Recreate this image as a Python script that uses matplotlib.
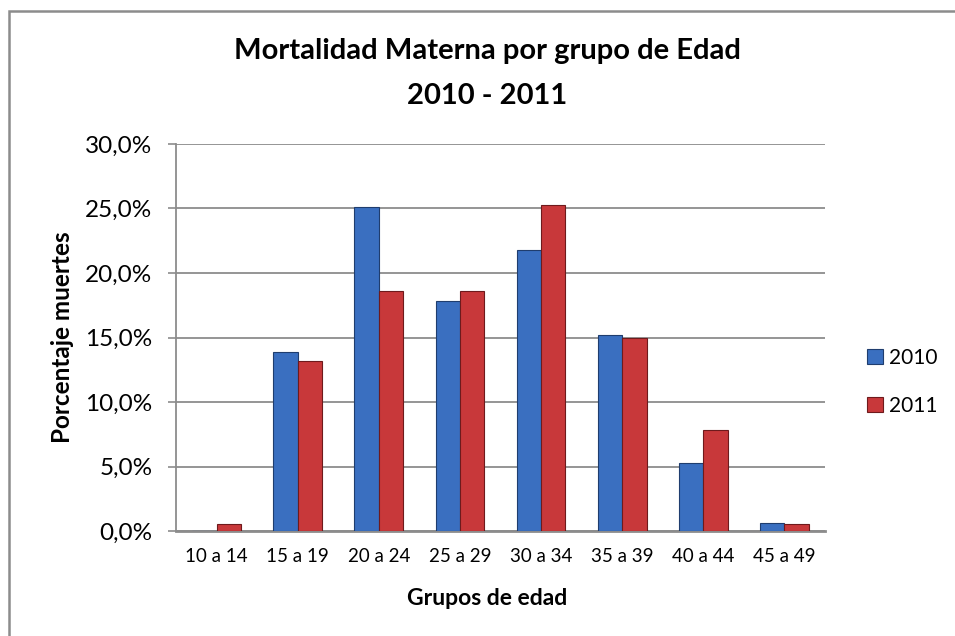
import numpy as np
import matplotlib
matplotlib.use("Agg")
import matplotlib.pyplot as plt
from matplotlib.patches import Rectangle
from matplotlib.ticker import FuncFormatter

# ── Data ──────────────────────────────────────────────────────────────────
grupos = ["10 a 14", "15 a 19", "20 a 24", "25 a 29",
          "30 a 34", "35 a 39", "40 a 44", "45 a 49"]
pct_2010 = [0.0, 13.9, 25.1, 17.8, 21.8, 15.2, 5.3, 0.65]
pct_2011 = [0.55, 13.2, 18.6, 18.6, 25.3, 15.0, 7.8, 0.55]
anios = ["2010", "2011"]

plt.rcParams["font.family"] = ["Lato", "DejaVu Sans"]

fig = plt.figure(figsize=(9.55, 6.36), dpi=100)
fig.patches.append(Rectangle((9 / 955, -0.1), 1.2, 1 - 11 / 636 + 0.1,
                             transform=fig.transFigure, fill=False,
                             edgecolor="#8c8c8c", linewidth=1.8))

ax = fig.add_axes([176 / 955, 1 - 531 / 636, 649 / 955, 387 / 636])

x = np.arange(len(grupos))
w = 0.3
ax.bar(x - w / 2, pct_2010, w, color="#3a6fc0", edgecolor="#1f3d6e",
       linewidth=0.8, label=anios[0], zorder=3)
ax.bar(x + w / 2, pct_2011, w, color="#c8383a", edgecolor="#6e1a1c",
       linewidth=0.8, label=anios[1], zorder=3)

ax.set_xlim(-0.5, len(grupos) - 0.5)
ax.set_ylim(0, 30)
ax.set_yticks(np.arange(0, 31, 5))
ax.yaxis.set_major_formatter(FuncFormatter(lambda v, p: f"{v:.1f}%".replace(".", ",")))
ax.set_xticks(x)
ax.set_xticklabels(grupos, fontsize=13.5)
ax.tick_params(axis="y", labelsize=17.5, length=6, color="#8c8c8c", width=1.2, pad=11)
ax.tick_params(axis="x", length=0, pad=12)

ax.grid(axis="y", color="#8c8c8c", linewidth=1.3, zorder=0)
for s in ["top", "right"]:
    ax.spines[s].set_visible(False)
ax.spines["left"].set_color("#8c8c8c")
ax.spines["left"].set_linewidth(1.3)
ax.spines["bottom"].set_color("#8c8c8c")
ax.spines["bottom"].set_linewidth(2)

ax.set_xlabel("Grupos de edad", fontsize=16.5, fontweight="bold")
ax.xaxis.set_label_coords(0.479, -0.148)
ax.set_ylabel("Porcentaje muertes", fontsize=17.5, fontweight="bold", labelpad=8)

fig.text(487 / 955, 1 - 51 / 636, "Mortalidad Materna por grupo de Edad",
         ha="center", va="center", fontsize=21, fontweight="bold")
fig.text(487 / 955, 1 - 96 / 636, "2010 - 2011",
         ha="center", va="center", fontsize=21, fontweight="bold")

ax.legend(loc="center left", bbox_to_anchor=(1.036, 0.385), frameon=False,
          fontsize=15, handlelength=0.75, handleheight=0.75,
          handletextpad=0.3, labelspacing=1.35)

plt.savefig("out.png", dpi=100)
plt.close()
